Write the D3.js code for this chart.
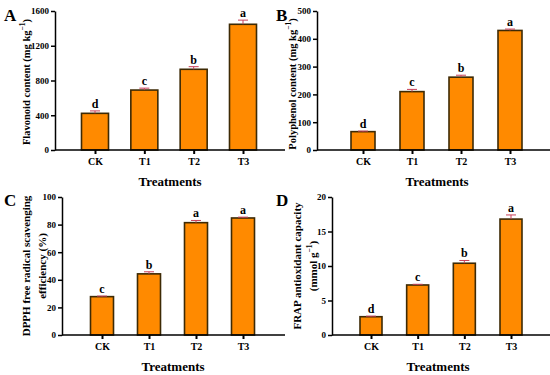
<!DOCTYPE html>
<html>
<head>
<meta charset="utf-8">
<script src="https://cdn.jsdelivr.net/npm/d3@7"></script>
<style>
  body { margin: 0; background: #fff; }
  svg { display: block; }
  svg text { font-family: "Liberation Serif", "Times New Roman", Tinos, serif !important; font-weight: bold; fill: #000; }
</style>
</head>
<body>
<div id="main"></div>
<script>
// DATA
const categories = ['CK', 'T1', 'T2', 'T3']

const flavonoid = [422, 690, 929, 1447]
const flavonoidErr = [28, 22, 30, 48]
const flavonoidLetters = ['d', 'c', 'b', 'a']
const flavonoidTicks = [0, 400, 800, 1200, 1600]

const polyphenol = [66, 210, 262, 430]
const polyphenolErr = [2, 8, 7, 5]
const polyphenolLetters = ['d', 'c', 'b', 'a']
const polyphenolTicks = [0, 100, 200, 300, 400, 500]

const dpph = [27.8, 44.3, 81.4, 84.8]
const dpphErr = [0.4, 1.5, 1.6, 0.6]
const dpphLetters = ['c', 'b', 'a', 'a']
const dpphTicks = [0, 20, 40, 60, 80, 100]

const frap = [2.65, 7.25, 10.4, 16.8]
const frapErr = [0.08, 0.1, 0.4, 0.6]
const frapLetters = ['d', 'c', 'b', 'a']
const frapTicks = [0, 5, 10, 15, 20]

const width = 550
const height = 375

const svg = d3.select('#main').append('svg')
  .attr('width', width)
  .attr('height', height)

// panel layout (positions in px)
const panels = [
  { tag: 'A', values: flavonoid, err: flavonoidErr, letters: flavonoidLetters, ticks: flavonoidTicks,
    max: 1600, axisX: 55, xEnd: 285, y0: 150, yTop: 11, c0: 95, c1: 243, bw: 27,
    tagX: 4, tagY: 21, label: [['Flavonoid content (mg kg', '−1', ')']], labelX: [26], labelY: 82, labelSize: 10.5,
    titleX: 170, titleY: 186 },
  { tag: 'B', values: polyphenol, err: polyphenolErr, letters: polyphenolLetters, ticks: polyphenolTicks,
    max: 500, axisX: 317, xEnd: 550, y0: 150, yTop: 11, c0: 363, c1: 510, bw: 24,
    tagX: 276, tagY: 21, label: [['Polyphenol content (mg kg', '−1', ')']], labelX: [292], labelY: 84, labelSize: 10.5,
    titleX: 437, titleY: 186 },
  { tag: 'C', values: dpph, err: dpphErr, letters: dpphLetters, ticks: dpphTicks,
    max: 100, axisX: 62, xEnd: 285, y0: 335, yTop: 197, c0: 102, c1: 243, bw: 23,
    tagX: 4, tagY: 206, label: [['DPPH free radical scavenging'], ['efficiency (%)']], labelX: [26, 42], labelY: 266, labelSize: 11,
    titleX: 173, titleY: 371 },
  { tag: 'D', values: frap, err: frapErr, letters: frapLetters, ticks: frapTicks,
    max: 20, axisX: 332, xEnd: 550, y0: 335, yTop: 197, c0: 371, c1: 511, bw: 22,
    tagX: 276, tagY: 206, label: [['FRAP antioxidant capacity'], ['(mmol g', '−1', ')']], labelX: [297, 313], labelY: 266, labelSize: 11,
    titleX: 438, titleY: 371 }
]

for (const p of panels) {
  const g = svg.append('g')
  const x = d3.scalePoint().domain(categories).range([p.c0, p.c1])
  const y = d3.scaleLinear().domain([0, p.max]).range([p.y0, p.yTop])
  const rows = categories.map((c, i) => ({ cat: c, v: p.values[i], e: p.err[i], l: p.letters[i] }))

  // bars
  g.selectAll('rect.bar')
    .data(rows)
    .join('rect')
      .attr('class', 'bar')
      .attr('x', d => x(d.cat) - p.bw / 2)
      .attr('y', d => y(d.v))
      .attr('width', p.bw)
      .attr('height', d => p.y0 - y(d.v))
      .attr('fill', '#ff8a00')
      .attr('stroke', '#3d2a05')
      .attr('stroke-width', 1.6)

  // error bars
  const eb = g.selectAll('g.err')
    .data(rows)
    .join('g')
      .attr('class', 'err')
      .attr('stroke', '#c8405a')
      .attr('stroke-width', 1)
  eb.append('line')
    .attr('x1', d => x(d.cat)).attr('x2', d => x(d.cat))
    .attr('y1', d => y(d.v)).attr('y2', d => y(d.v + d.e))
  eb.append('line')
    .attr('x1', d => x(d.cat) - 5).attr('x2', d => x(d.cat) + 5)
    .attr('y1', d => y(d.v + d.e)).attr('y2', d => y(d.v + d.e))

  // significance letters
  g.selectAll('text.sig')
    .data(rows)
    .join('text')
      .attr('class', 'sig')
      .attr('x', d => x(d.cat))
      .attr('y', d => y(d.v + d.e) - 3)
      .attr('text-anchor', 'middle')
      .style('font-size', '12px')
      .text(d => d.l)

  // y axis
  const yAxis = g.append('g')
    .attr('transform', `translate(${p.axisX},0)`)
    .call(d3.axisLeft(y).tickValues(p.ticks).tickFormat(d3.format('d'))
      .tickSize(4).tickPadding(2).tickSizeOuter(0))
  yAxis.select('.domain').attr('stroke', '#000').attr('stroke-width', 1.5)
  yAxis.selectAll('.tick line').attr('stroke', '#000').attr('stroke-width', 1.5)
  yAxis.selectAll('.tick text').style('font-size', '9px')

  // x axis
  const xAxis = g.append('g')
    .attr('transform', `translate(0,${p.y0})`)
    .call(d3.axisBottom(x).tickSize(4).tickPadding(4).tickSizeOuter(0))
  xAxis.select('.domain').attr('d', `M${p.axisX},0H${p.xEnd}`)
    .attr('stroke', '#000').attr('stroke-width', 1.5)
  xAxis.selectAll('.tick line').attr('stroke', '#000').attr('stroke-width', 2)
  xAxis.selectAll('.tick text').style('font-size', '10px')

  // axis titles
  g.append('text')
    .attr('x', p.titleX)
    .attr('y', p.titleY)
    .attr('text-anchor', 'middle')
    .style('font-size', '13px')
    .text('Treatments')

  p.label.forEach((parts, i) => {
    const t = g.append('text')
      .attr('transform', `translate(${p.labelX[i]},${p.labelY}) rotate(-90)`)
      .attr('text-anchor', 'middle')
      .attr('dy', '0.35em')
      .style('font-size', p.labelSize + 'px')
    t.append('tspan').text(parts[0])
    if (parts.length > 1) {
      t.append('tspan').attr('dy', '-5').style('font-size', '7.5px').text(parts[1])
      t.append('tspan').attr('dy', '5').text(parts[2])
    }
  })

  // panel tag
  g.append('text')
    .attr('x', p.tagX)
    .attr('y', p.tagY)
    .style('font-size', '17px')
    .text(p.tag)
}
</script>
</body>
</html>
